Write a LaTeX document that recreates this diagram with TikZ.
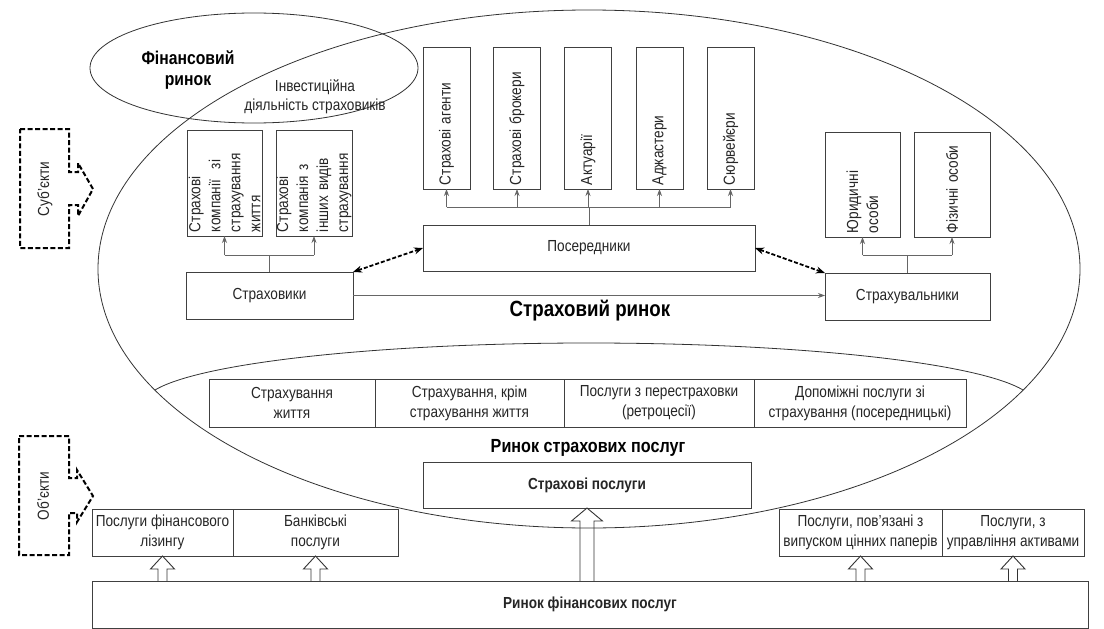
\documentclass[tikz,border=0pt]{standalone}
\usepackage{fontspec}
\setmainfont{Liberation Sans}[FakeStretch=0.85]
\usetikzlibrary{arrows.meta,calc}
\newcommand\blockarrow[5]{\draw[hollow] let \p1=(#1), \p2=(#2) in (\x2-#3,\y1) -- (\x2-#3,\y2-#5) -- (\x2-#4,\y2-#5) -- (\x2,\y2) -- (\x2+#4,\y2-#5) -- (\x2+#3,\y2-#5) -- (\x2+#3,\y1);}
\begin{document}
\begin{tikzpicture}[x=1pt,y=-1pt,
  every node/.style={font=\fontsize{16pt}{20pt}\selectfont, inner sep=0pt, outer sep=0pt, text=black!85},
  box/.style={draw=black!75, line width=0.9pt, align=center},
  vbox/.style={box, rotate=90, align=left, inner xsep=4pt, inner ysep=0pt, font={\fontsize{16pt}{20pt}\selectfont\normalbaselineskip=20pt\relax}},
  conn/.style={draw=black!60, line width=0.8pt},
  arr/.style={conn, -{Stealth[length=7pt,width=5pt]}},
  darr/.style={draw=black, line width=1.8pt, dash pattern=on 4pt off 2pt, {Stealth[length=9pt,width=7pt]}-{Stealth[length=9pt,width=7pt]}},
  dshape/.style={draw=black, line width=2pt, dash pattern=on 5pt off 2.5pt, line join=miter},
  hollow/.style={draw=black!80, line width=0.9pt},
  ttl/.style={font=\fontsize{#1}{#1*1.25}\bfseries\selectfont, align=center, text=black}
]
\fill[white] (0,0) rectangle (1104,629);
\useasboundingbox (0,0) rectangle (1104,629);

% ellipses
\draw[black!80, line width=0.8pt] (589,269) ellipse [x radius=491, y radius=259];
\draw[black!80, line width=0.8pt] (254,68) ellipse [x radius=164, y radius=55];
\draw[black!80, line width=0.8pt] (155,390) arc [start angle=-167.25, end angle=-12.75, x radius=445, y radius=60.3];

% titles
\node[ttl=18.5pt] (finr) at (188,70) {Фінансовий\\[2pt]ринок};
\node[align=center, font=\fontsize{16pt}{19pt}\selectfont] (inv) at (315,97) {Інвестиційна\\діяльність страховиків};
\node[ttl=22pt] (strr) at (590,311) {Страховий ринок};
\node[ttl=19pt] (rsp) at (588,448) {Ринок страхових послуг};

% insurers side
\node[vbox, minimum width=106pt, minimum height=75pt, text width=98pt] (lc1) at (224.5,183) {Страхові\\компанії~~зі\\страхування\\життя};
\node[vbox, minimum width=106pt, minimum height=76pt, text width=98pt] (lc2) at (314,183) {Страхові\\компанія з\\інших видів\\страхування};
\node[box, minimum width=167pt, minimum height=47pt] (ins) at (269.5,295.5) {Страховики};

% intermediaries
\node[vbox, minimum width=142pt, minimum height=47pt, text width=134pt] (ag) at (446.5,118) {Страхові агенти};
\node[vbox, minimum width=142pt, minimum height=47pt, text width=134pt] (br) at (517,118) {Страхові брокери};
\node[vbox, minimum width=142pt, minimum height=47pt, text width=134pt] (ac) at (588,118) {Актуарії};
\node[vbox, minimum width=142pt, minimum height=47pt, text width=134pt] (ad) at (659.5,118) {Аджастери};
\node[vbox, minimum width=142pt, minimum height=47pt, text width=134pt] (sv) at (730.5,118) {Сюрвейєри};
\node[box, minimum width=332pt, minimum height=46pt] (pos) at (589,248) {Посередники};

% policyholders
\node[vbox, minimum width=105pt, minimum height=75pt, text width=97pt] (jur) at (862.5,184.5) {Юридичні\\особи};
\node[vbox, minimum width=105pt, minimum height=76pt, text width=97pt] (fiz) at (952,184.5) {Фізичні особи};
\node[box, minimum width=165pt, minimum height=47pt] (hold) at (907.5,296.5) {Страхувальники};

% connectors
\coordinate (b1) at (0,255);
\coordinate (b2) at (0,207);
\draw[conn] (ins.north) -- (ins.north |- b1);
\draw[conn] (lc1.west |- b1) -- (lc2.west |- b1);
\draw[arr] (lc1.west |- b1) -- (lc1.west);
\draw[arr] (lc2.west |- b1) -- (lc2.west);

\draw[conn] (pos.north) -- (pos.north |- b2);
\draw[conn] (ag.west |- b2) -- (sv.west |- b2);
\foreach \n in {ag,br,ac,ad,sv} \draw[arr] (\n.west |- b2) -- (\n.west);

\draw[conn] (hold.north) -- (hold.north |- b1);
\draw[conn] (jur.west |- b1) -- (fiz.west |- b1);
\draw[arr] (jur.west |- b1) -- (jur.west);
\draw[arr] (fiz.west |- b1) -- (fiz.west);

\draw[darr] (ins.north east) -- (pos.west);
\draw[darr] (pos.east) -- (hold.north west);
\draw[arr] (ins.east) -- (ins.east -| hold.west);

% insurance services row
\node[box, minimum width=166pt, minimum height=48pt] (s1) at (292,403) {Страхування\\життя};
\node[box, minimum width=189pt, minimum height=48pt] (s2) at (469.5,403) {Страхування, крім\\страхування життя};
\node[box, minimum width=190pt, minimum height=48pt] (s3) at (659,403) {Послуги з перестраховки\\(ретроцесії)};
\node[box, minimum width=212pt, minimum height=48pt] (s4) at (860,403) {Допоміжні послуги зі\\страхування (посередницькі)};

\node[box, minimum width=328pt, minimum height=46pt, font=\fontsize{16pt}{20pt}\bfseries\selectfont] (strp) at (587,485) {Страхові послуги};

% financial services
\node[box, minimum width=141pt, minimum height=47pt] (bl1) at (162.5,532.5) {Послуги фінансового\\лізингу};
\node[box, minimum width=165pt, minimum height=47pt] (bl2) at (315.5,532.5) {Банківські\\послуги};
\node[box, minimum width=163pt, minimum height=47pt] (br1) at (860.5,532.5) {Послуги, пов’язані з\\випуском цінних паперів};
\node[box, minimum width=142pt, minimum height=47pt] (br2) at (1013,532.5) {Послуги, з\\управління активами};
\node[box, minimum width=996pt, minimum height=47pt, font=\fontsize{16pt}{20pt}\bfseries\selectfont] (finm) at (590,604.5) {Ринок фінансових послуг};

\blockarrow{finm.north -| strp.south}{strp.south}{7pt}{15.5pt}{13pt}
\blockarrow{finm.north -| bl1.south}{bl1.south}{4.5pt}{12pt}{13pt}
\blockarrow{finm.north -| bl2.south}{bl2.south}{4.5pt}{12pt}{13pt}
\blockarrow{finm.north -| br1.south}{br1.south}{4.5pt}{12pt}{13pt}
\blockarrow{finm.north -| br2.south}{br2.south}{4.5pt}{12pt}{13pt}

% side labels
\draw[dshape] (20,129) -- (69,129) -- (69,172) -- (78,172) -- (78,163) -- (93,189) -- (78,216) -- (78,205) -- (69,205) -- (69,248) -- (20,248) -- cycle;
\node[rotate=90] (subj) at (45,189) {Суб’єкти};
\draw[dshape] (19,436) -- (69,436) -- (69,478) -- (77,478) -- (77,470) -- (93,496) -- (77,522) -- (77,513) -- (69,513) -- (69,555) -- (19,555) -- cycle;
\node[rotate=90] (obj) at (43,496) {Об’єкти};
\end{tikzpicture}
\end{document}
